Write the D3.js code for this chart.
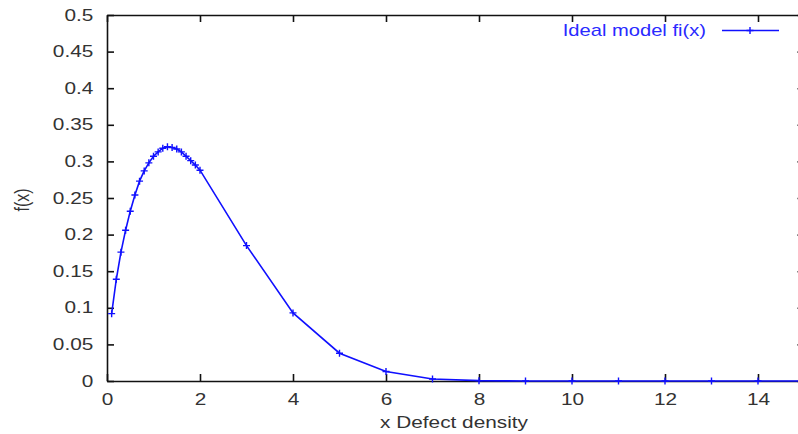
<!DOCTYPE html>
<html>
<head>
<meta charset="utf-8">
<script src="https://cdn.jsdelivr.net/npm/d3@7"></script>
<style>
  body { margin: 0; background: #fff; }
  svg text { font-family: "Liberation Sans", Arial, sans-serif; font-size: 16px; fill: #333; }
</style>
</head>
<body>
<div id="vis-container"></div>
<script>
// values
const xValues = [0.1, 0.2, 0.3, 0.4, 0.5, 0.6, 0.7, 0.8, 0.9, 1.0,
                 1.1, 1.2, 1.3, 1.4, 1.5, 1.6, 1.7, 1.8, 1.9, 2.0,
                 3, 4, 5, 6, 7, 8, 9, 10, 11, 12, 13, 14, 15];
const fValues = [0.092, 0.139, 0.176, 0.206, 0.232, 0.254, 0.273, 0.287, 0.298, 0.307,
                 0.313, 0.318, 0.320, 0.319, 0.317, 0.313, 0.307, 0.301, 0.295, 0.288,
                 0.185, 0.093, 0.038, 0.013, 0.0028, 0.0005, 0, 0, 0, 0, 0, 0, 0];
const xTicks = [0, 2, 4, 6, 8, 10, 12, 14];
const yTicks = [0, 0.05, 0.1, 0.15, 0.2, 0.25, 0.3, 0.35, 0.4, 0.45, 0.5];
const seriesName = "Ideal model fi(x)";

const w = 798, h = 434;
const padLeft = 107, padTop = 15, padBottom = 381;
const stretch = 1.3; // text in the picture is wider than tall
const tick = 7;

const xScale = d3.scaleLinear().domain([0, 15]).range([padLeft, padLeft + 15 * 46.5]);
const yScale = d3.scaleLinear().domain([0, 0.5]).range([padBottom, padTop]);
const padRight = xScale(15);

const svg = d3.select("#vis-container")
    .append("svg")
    .attr("width", w)
    .attr("height", h);

// bottom axis
svg.append("g")
    .attr("class", "x axis")
    .attr("transform", "translate(0," + padBottom + ")")
    .call(d3.axisBottom(xScale).tickValues(xTicks).tickSize(-tick).tickSizeOuter(0).tickPadding(13).tickFormat(d3.format("d")));

// left axis
svg.append("g")
    .attr("class", "y axis")
    .attr("transform", "translate(" + padLeft + ",0)")
    .call(d3.axisLeft(yScale).tickValues(yTicks).tickSize(-tick).tickSizeOuter(0).tickFormat(d => String(+d.toFixed(2))));

// mirror axes, top and right
svg.append("g")
    .attr("class", "mirror")
    .attr("transform", "translate(0," + padTop + ")")
    .call(d3.axisTop(xScale).tickValues(xTicks).tickSize(-tick).tickSizeOuter(0).tickFormat(""));
svg.append("g")
    .attr("class", "mirror")
    .attr("transform", "translate(" + padRight + ",0)")
    .call(d3.axisRight(yScale).tickValues(yTicks).tickSize(-tick).tickSizeOuter(0).tickFormat(""));

svg.selectAll(".domain, .tick line")
    .attr("stroke", "#111")
    .attr("stroke-width", 1.6);

// stretch the tick labels sideways like the picture
svg.selectAll(".x.axis .tick text")
    .attr("fill", "#333")
    .attr("transform", "scale(" + stretch + ",1)");
svg.selectAll(".y.axis .tick text")
    .attr("fill", "#333")
    .attr("x", -13.7 / stretch)
    .attr("transform", "scale(" + stretch + ",1)");

// axis titles
svg.append("text")
    .attr("transform", "translate(454,427.5) scale(" + stretch + ",1)")
    .style("text-anchor", "middle")
    .text("x Defect density");

svg.append("text")
    .attr("transform", "translate(22,200) scale(" + stretch + ",1) rotate(-90)")
    .attr("dy", "0.35em")
    .style("text-anchor", "middle")
    .text("f(x)");

// the curve
const data = xValues.map((x, i) => [x, fValues[i]]);
const line = d3.line()
    .x(d => xScale(d[0]))
    .y(d => yScale(d[1]));

svg.append("path")
    .datum(data)
    .attr("fill", "none")
    .attr("stroke", "#1010ff")
    .attr("stroke-width", 1.6)
    .attr("d", line);

const cross = "M-3.5,0H3.5M0,-3.5V3.5";
svg.selectAll(".dot")
    .data(data)
    .enter()
    .append("path")
    .attr("class", "dot")
    .attr("transform", d => "translate(" + xScale(d[0]) + "," + yScale(d[1]) + ")")
    .attr("d", cross)
    .attr("stroke", "#1010ff")
    .attr("stroke-width", 1.4);

// legend
svg.append("text")
    .attr("transform", "translate(706,35.5) scale(1.26,1)")
    .style("text-anchor", "end")
    .style("fill", "#2a2aff")
    .text(seriesName);

svg.append("line")
    .attr("x1", 722).attr("x2", 779)
    .attr("y1", 30.5).attr("y2", 30.5)
    .attr("stroke", "#1010ff")
    .attr("stroke-width", 1.6);
svg.append("path")
    .attr("transform", "translate(750,30.5)")
    .attr("d", cross)
    .attr("stroke", "#1010ff")
    .attr("stroke-width", 1.4);
</script>
</body>
</html>
